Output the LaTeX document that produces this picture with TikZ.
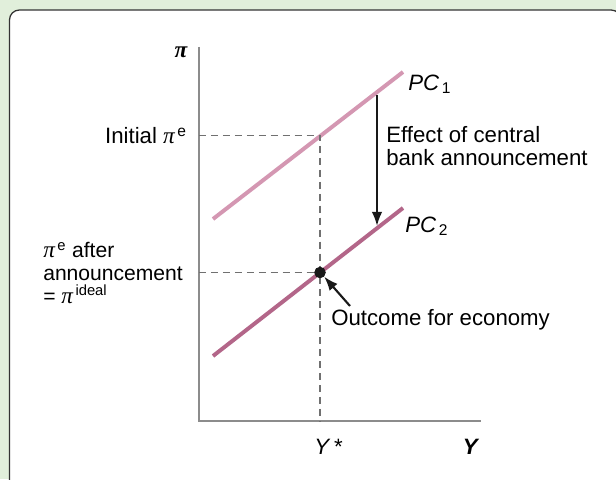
\documentclass[tikz,border=0pt]{standalone}
\usepackage{fontspec}
\setmainfont{Liberation Sans}
\newfontfamily\greekserif{Liberation Serif}
\usetikzlibrary{arrows.meta, positioning}
\definecolor{panelgreen}{HTML}{E1EFDB}
\definecolor{pcone}{HTML}{D497B2}
\definecolor{pctwo}{HTML}{B36689}
\definecolor{axisgrey}{HTML}{8C8C8C}
\definecolor{guidegrey}{HTML}{707070}
\newcommand{\infl}{{\greekserif\itshape\fontsize{16.5}{16}\selectfont π}}

\begin{document}
\begin{tikzpicture}[
    x=0.025cm, y=-0.025cm,
    axis/.style={draw=axisgrey, line width=1.3pt},
    guide/.style={draw=guidegrey, line width=1.3pt, dash pattern=on 5pt off 3.5pt},
    curve/.style={line width=2.8pt, line cap=butt},
    lbl/.style={inner sep=0pt, align=left},
    dot/.style={circle, fill=black!90, inner sep=0pt, minimum size=8pt},
    arr/.style={-{Latex[length=10pt, width=7.5pt]}, line width=1.5pt, black!90},
    font=\fontsize{15.8}{16.4}\selectfont
]
    % panel
    \fill[panelgreen] (0,0) rectangle (616,479);
    \useasboundingbox (0,0) rectangle (616,479);
    \begin{scope}
    \clip (0,0) rectangle (616,479);
    \draw[fill=white, draw=black!80, line width=0.9pt, rounded corners=7pt] (9.5,10) rectangle (621,500);
    \end{scope}

    % axes
    \coordinate (o)    at (199,421);
    \coordinate (ytop) at (199,47);
    \coordinate (xend) at (481,421);
    \draw[axis] (ytop) -- (o) -- (xend);
    \node[lbl] (pi)  at (181,52)  {\bfseries\infl};
    \node[lbl] (y)   at (471,447) {\textbf{\textit{Y}}};
    \node[lbl, anchor=west] (ystar) at (314,447) {\textit{Y}\,*};

    % Phillips curves
    \coordinate (pc1a) at (213,219);
    \coordinate (pc1b) at (403,72);
    \coordinate (pc2a) at (213,356);
    \coordinate (pc2b) at (403,208);
    \draw[curve, pcone] (pc1a) -- (pc1b);
    \draw[curve, pctwo] (pc2a) -- (pc2b);
    \node[lbl, anchor=base west] (pc1) at (408,90)  {\textit{PC}\textsubscript{\,1}};
    \node[lbl, anchor=base west] (pc2) at (405,232) {\textit{PC}\textsubscript{\,2}};

    % guides
    \coordinate (epi1) at (320,135.5);
    \node[dot] (outcome) at (320,272.5) {};
    \draw[guide] (ytop |- epi1) -- (epi1) -- (epi1 |- o);
    \draw[guide] (ytop |- outcome) -- (outcome);
    \node[dot] at (outcome) {};

    \node[lbl, anchor=east] (init) at (187,136) {Initial \infl\textsuperscript{\,e}};
    \node[lbl, anchor=west, font=\fontsize{15}{16.2}\selectfont] (after) at (43,273)
        {\infl\textsuperscript{\,e} after\\announcement\\= \infl\textsuperscript{\,ideal}};

    % shift
    \coordinate (shtop) at (377,95);
    \coordinate (shbot) at (377,226);
    \draw[arr] (shtop) -- (shbot);
    \node[lbl, anchor=west] (effect) at (386,146) {Effect of central\\bank announcement};

    \node[lbl, anchor=west] (outtext) at (331,320) {Outcome for economy};
    \coordinate (outtail) at (350,306);
    \draw[arr] (outtail) -- (outcome.south east);
\end{tikzpicture}
\end{document}
